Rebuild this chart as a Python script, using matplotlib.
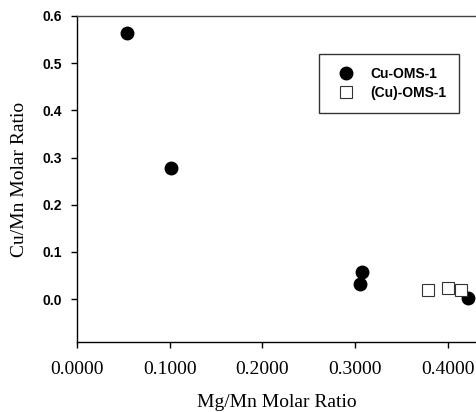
import matplotlib
matplotlib.use("Agg")
import matplotlib.pyplot as plt
from matplotlib.ticker import FormatStrFormatter

# Cu-OMS-1 (filled circles)
cu_oms_mg = [0.054, 0.101, 0.307, 0.305, 0.422]
cu_oms_cu = [0.565, 0.278, 0.058, 0.032, 0.002]

# (Cu)-OMS-1 (open squares)
cu2_oms_mg = [0.379, 0.400, 0.414]
cu2_oms_cu = [0.019, 0.024, 0.019]

x_ticks = [0.0, 0.1, 0.2, 0.3, 0.4]
y_ticks = [0.0, 0.1, 0.2, 0.3, 0.4, 0.5, 0.6]

fig = plt.figure(figsize=(4.77, 4.12), dpi=100)
ax = fig.add_axes([77/477, 70/412, 400/477, 326/412])

ax.plot(cu_oms_mg, cu_oms_cu, 'o', color='black', markersize=9, label='Cu-OMS-1')
ax.plot(cu2_oms_mg, cu2_oms_cu, 's', markerfacecolor='white', markeredgecolor='#333333',
        markeredgewidth=0.8, markersize=8, label='(Cu)-OMS-1')

ax.set_xlim(0, 0.4313)
ax.set_ylim(-0.091, 0.6)
ax.set_xticks(x_ticks)
ax.set_yticks(y_ticks)
ax.xaxis.set_major_formatter(FormatStrFormatter('%.4f'))
ax.yaxis.set_major_formatter(FormatStrFormatter('%.1f'))

# spines: no right one visible in the original
ax.spines['right'].set_visible(False)
ax.spines['top'].set_color('#444444')
for s in ['left', 'bottom', 'top']:
    ax.spines[s].set_linewidth(1.0)

ax.tick_params(axis='y', direction='out', length=4, width=1, pad=7)
ax.tick_params(axis='x', direction='out', length=4, width=1, pad=10)
for lab in ax.get_yticklabels():
    lab.set_family('Liberation Sans')
    lab.set_fontweight('bold')
    lab.set_fontsize(10)
for lab in ax.get_xticklabels():
    lab.set_family('Liberation Serif')
    lab.set_fontsize(14)

ax.set_xlabel('Mg/Mn Molar Ratio', family='Liberation Serif', fontsize=14, labelpad=11)
ax.set_ylabel('Cu/Mn Molar Ratio', family='Liberation Serif', fontsize=14, labelpad=10)

leg = ax.legend(loc='upper left', bbox_to_anchor=(0.605, 0.883), borderaxespad=0,
                borderpad=0.95, handlelength=2.0, handletextpad=0.73, labelspacing=0.3,
                fancybox=False, frameon=True,
                prop={'family': 'Liberation Sans', 'weight': 'bold', 'size': 10})
leg.get_frame().set_edgecolor('black')
leg.get_frame().set_linewidth(1.0)

fig.savefig('out.png', dpi=100)
